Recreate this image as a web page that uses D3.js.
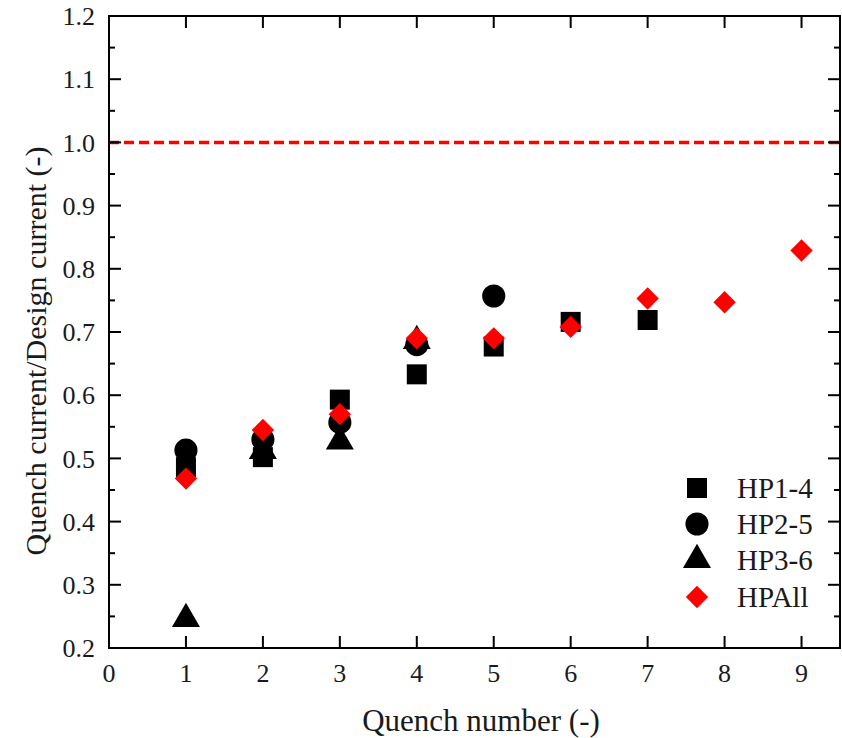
<!DOCTYPE html>
<html><head><meta charset="utf-8">
<script src="https://cdn.jsdelivr.net/npm/d3@7"></script>
<style>body{margin:0;background:#fff}svg{display:block}text{font-family:"Liberation Serif","Times New Roman",serif;fill:#1a1a1a}</style>
</head><body>
<svg id="c" width="842" height="738"></svg>
<script>
const xTicks = [0,1,2,3,4,5,6,7,8,9];
const yTicks = [0.2,0.3,0.4,0.5,0.6,0.7,0.8,0.9,1.0,1.1,1.2];
const hp14 = [[1,0.486],[2,0.502],[3,0.593],[4,0.633],[5,0.677],[6,0.716],[7,0.719]];
const hp25 = [[1,0.513],[2,0.530],[3,0.557],[4,0.680],[5,0.757]];
const hp36 = [[1,0.246],[2,0.512],[3,0.527],[4,0.686]];
const hpAll = [[1,0.468],[2,0.545],[3,0.570],[4,0.690],[5,0.690],[6,0.708],[7,0.753],[8,0.747],[9,0.829]];
const designRatio = 1.0;
const seriesNames = ["HP1-4","HP2-5","HP3-6","HPAll"];

const svg = d3.select("#c");
const L=109, R=840, T=16, B=648;
const x = d3.scaleLinear().domain([0,9.5]).range([L,R]);
const y = d3.scaleLinear().domain([0.2,1.2]).range([B,T]);

// dashed line
svg.append("line").attr("x1",L).attr("x2",R).attr("y1",y(designRatio)).attr("y2",y(designRatio))
  .attr("stroke","#ff0000").attr("stroke-width",3.5).attr("stroke-dasharray","10,5");

const sym = {
  square: d3.symbol().type(d3.symbolSquare).size(400),
  circle: d3.symbol().type(d3.symbolCircle).size(420),
  triangle: d3.symbol().type(d3.symbolTriangle).size(340),
  diamond: d3.symbol().type(d3.symbolSquare).size(250)
};
function draw(data, s, color, rot){
  svg.append("g").selectAll("path").data(data).join("path")
    .attr("d", s)
    .attr("transform", d=>`translate(${x(d[0])},${y(d[1])})${rot?" rotate(45)":""}`)
    .attr("fill", color);
}
draw(hp14, sym.square(), "#000");
draw(hp36, sym.triangle(), "#000");
draw(hp25, sym.circle(), "#000");
draw(hpAll, sym.diamond(), "#ff0000", true);

// axes frame
const ax = svg.append("g").attr("stroke","#000").attr("stroke-width",2).attr("fill","none");
ax.append("rect").attr("x",L).attr("y",T).attr("width",R-L).attr("height",B-T);

const yMinor = d3.range(0.25,1.2,0.1);
yTicks.forEach(v=>{
  ax.append("line").attr("x1",L).attr("x2",L+12).attr("y1",y(v)).attr("y2",y(v));
  ax.append("line").attr("x1",R).attr("x2",R-12).attr("y1",y(v)).attr("y2",y(v));
});
yMinor.forEach(v=>{
  ax.append("line").attr("x1",L).attr("x2",L+6).attr("y1",y(v)).attr("y2",y(v));
  ax.append("line").attr("x1",R).attr("x2",R-6).attr("y1",y(v)).attr("y2",y(v));
});
xTicks.forEach(v=>{
  ax.append("line").attr("x1",x(v)).attr("x2",x(v)).attr("y1",B).attr("y2",B-12);
  ax.append("line").attr("x1",x(v)).attr("x2",x(v)).attr("y1",T).attr("y2",T+12);
});

// tick labels
svg.append("g").selectAll("text").data(yTicks).join("text")
  .attr("x",95).attr("y",d=>y(d)).attr("dy","0.35em").attr("text-anchor","end")
  .attr("font-size",26)
  .text(d=>d3.format(".1f")(d));
svg.append("g").selectAll("text").data(xTicks).join("text")
  .attr("x",d=>x(d)).attr("y",682).attr("text-anchor","middle")
  .attr("font-size",26)
  .text(d=>d);

// axis titles
svg.append("text").attr("x",481).attr("y",731).attr("text-anchor","middle")
  .attr("font-size",31).text("Quench number (-)");
svg.append("text").attr("transform",`translate(46,351) rotate(-90)`).attr("text-anchor","middle")
  .attr("font-size",30).text("Quench current/Design current (-)");

// legend
const legY = [488,524,560,597];
const legSyms = [[sym.square(),"#000",false],[sym.circle(),"#000",false],[sym.triangle(),"#000",false],[sym.diamond(),"#ff0000",true]];
seriesNames.forEach((n,i)=>{
  svg.append("path").attr("d",legSyms[i][0]).attr("fill",legSyms[i][1])
    .attr("transform",`translate(697,${legY[i]})${legSyms[i][2]?" rotate(45)":""}`);
  svg.append("text").attr("x",737).attr("y",legY[i]).attr("dy","0.35em")
    .attr("font-size",29).text(n);
});
</script>
</body></html>
